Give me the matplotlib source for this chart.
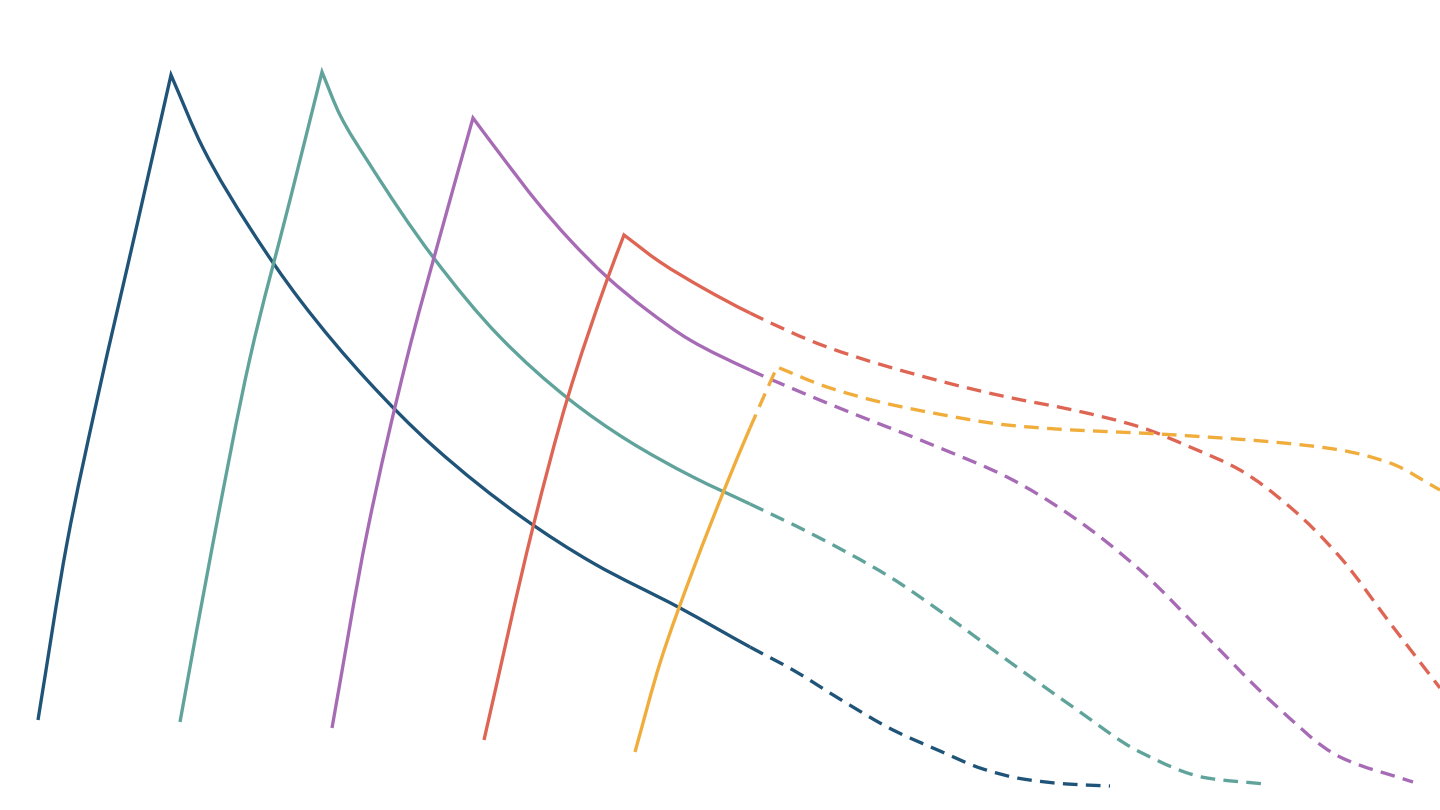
import matplotlib
matplotlib.use("Agg")
import matplotlib.pyplot as plt
import numpy as np
from matplotlib.path import Path
from matplotlib.patches import PathPatch

# ---- data (x: time units, y: value) ----
split_x = 75.0   # solid (observed) up to here, dashed (projected) after

navy_x = [3.8, 6.7, 9.7, 13.7, 17.1, 20.3, 25.0, 30.0, 36.7, 43.3, 52.3, 59.3, 68.0,
          75.0, 79.3, 84.3, 89.3, 94.0, 98.3, 102.3, 106.7, 111.0]
navy_y = [9.0, 26.7, 41.0, 58.5, 73.5, 66.2, 58.2, 51.0, 43.0, 36.4, 29.2, 24.7, 20.2,
          16.3, 14.0, 10.9, 8.0, 5.9, 4.1, 3.1, 2.6, 2.4]

teal_x = [18.0, 21.3, 25.0, 29.0, 32.2, 34.0, 36.7, 43.3, 50.0, 57.0, 62.7, 69.3, 75.0,
          81.0, 89.0, 94.0, 100.7, 107.3, 114.0, 120.7, 126.5]
teal_y = [8.8, 26.7, 45.2, 61.0, 73.8, 69.5, 65.0, 55.3, 47.3, 41.0, 37.0, 33.3, 30.6,
          27.7, 23.3, 19.9, 15.0, 10.3, 5.8, 3.2, 2.6]

purple_x = [33.2, 36.7, 40.7, 44.0, 47.3, 50.3, 53.7, 57.0, 60.7, 64.7, 69.0, 75.0, 82.7,
            94.0, 100.7, 107.3, 114.0, 120.7, 127.3, 134.0, 141.3]
purple_y = [8.2, 27.7, 45.2, 57.4, 69.2, 65.2, 60.8, 57.0, 53.3, 50.0, 47.0, 44.0, 40.7,
            36.2, 33.3, 29.3, 24.0, 17.3, 10.7, 5.3, 2.8]

red_x = [48.4, 53.3, 56.7, 60.7, 62.4, 66.0, 70.3, 75.0, 82.7, 94.0, 100.7, 107.3,
         114.0, 119.0, 124.0, 129.0, 134.0, 139.0, 144.0]
red_y = [7.0, 28.3, 41.0, 53.0, 57.5, 54.8, 52.2, 49.7, 46.3, 42.9, 41.3, 40.0,
         38.3, 36.3, 34.0, 30.3, 25.3, 18.7, 12.2]

yellow_x = [63.5, 66.0, 69.3, 72.7, 75.0, 77.7, 82.7, 88.0, 93.3, 100.7, 107.3, 114.0,
            120.7, 127.3, 134.0, 139.0, 144.0]
yellow_y = [5.8, 14.7, 24.0, 32.7, 38.2, 44.3, 42.3, 40.8, 39.7, 38.5, 38.0, 37.7,
            37.3, 36.8, 36.0, 34.7, 32.0]

series = [
    (navy_x, navy_y, "#1f5478"),
    (teal_x, teal_y, "#5fa39b"),
    (purple_x, purple_y, "#a76bb5"),
    (red_x, red_y, "#de6553"),
    (yellow_x, yellow_y, "#f0ad3b"),
]


def pchip_slopes(x, y):
    x = np.asarray(x, float)
    y = np.asarray(y, float)
    n = len(x)
    h = np.diff(x)
    d = np.diff(y) / h
    m = np.zeros(n)
    if n == 2:
        m[:] = d[0]
        return m
    for i in range(1, n - 1):
        if d[i - 1] * d[i] <= 0:
            m[i] = 0.0
        else:
            w1 = 2 * h[i] + h[i - 1]
            w2 = h[i] + 2 * h[i - 1]
            m[i] = (w1 + w2) / (w1 / d[i - 1] + w2 / d[i])
    m[0] = d[0]
    m[-1] = d[-1]
    return m


def build_paths(xs, ys):
    xs = np.asarray(xs, float)
    ys = np.asarray(ys, float)
    k = int(np.argmax(ys))
    m_rise = pchip_slopes(xs[:k + 1], ys[:k + 1])
    m_fall = pchip_slopes(xs[k:], ys[k:])
    pieces = []
    for i in range(len(xs) - 1):
        if i < k:
            m1, m2 = m_rise[i], m_rise[i + 1]
        else:
            m1, m2 = m_fall[i - k], m_fall[i - k + 1]
        h = xs[i + 1] - xs[i]
        p0 = (xs[i], ys[i])
        c1 = (xs[i] + h / 3, ys[i] + m1 * h / 3)
        c2 = (xs[i + 1] - h / 3, ys[i + 1] - m2 * h / 3)
        p3 = (xs[i + 1], ys[i + 1])
        pieces.append((p0, c1, c2, p3, xs[i + 1] <= split_x + 1e-9))

    def to_path(sel):
        verts, codes = [], []
        for p0, c1, c2, p3, _ in sel:
            if not verts or verts[-1] != p0:
                verts.append(p0)
                codes.append(Path.MOVETO)
            verts += [c1, c2, p3]
            codes += [Path.CURVE4] * 3
        return Path(verts, codes) if verts else None

    solid = to_path([p for p in pieces if p[4]])
    dashed = to_path([p for p in pieces if not p[4]])
    return solid, dashed


fig = plt.figure(figsize=(14.4, 8.1), dpi=100)
ax = fig.add_axes([0, 0, 1, 1])
ax.set_xlim(0, 144)
ax.set_ylim(0, 81)
ax.axis("off")

lw = 2.4
for xs, ys, c in series:
    solid, dashed = build_paths(xs, ys)
    if solid is not None:
        ax.add_patch(PathPatch(solid, fill=False, edgecolor=c, lw=lw,
                               joinstyle="miter", capstyle="butt"))
    if dashed is not None:
        ax.add_patch(PathPatch(dashed, fill=False, edgecolor=c, lw=lw,
                               linestyle=(0, (4.4, 2.5)),
                               joinstyle="miter", capstyle="butt"))

fig.savefig("out.png", dpi=100, facecolor="white")
